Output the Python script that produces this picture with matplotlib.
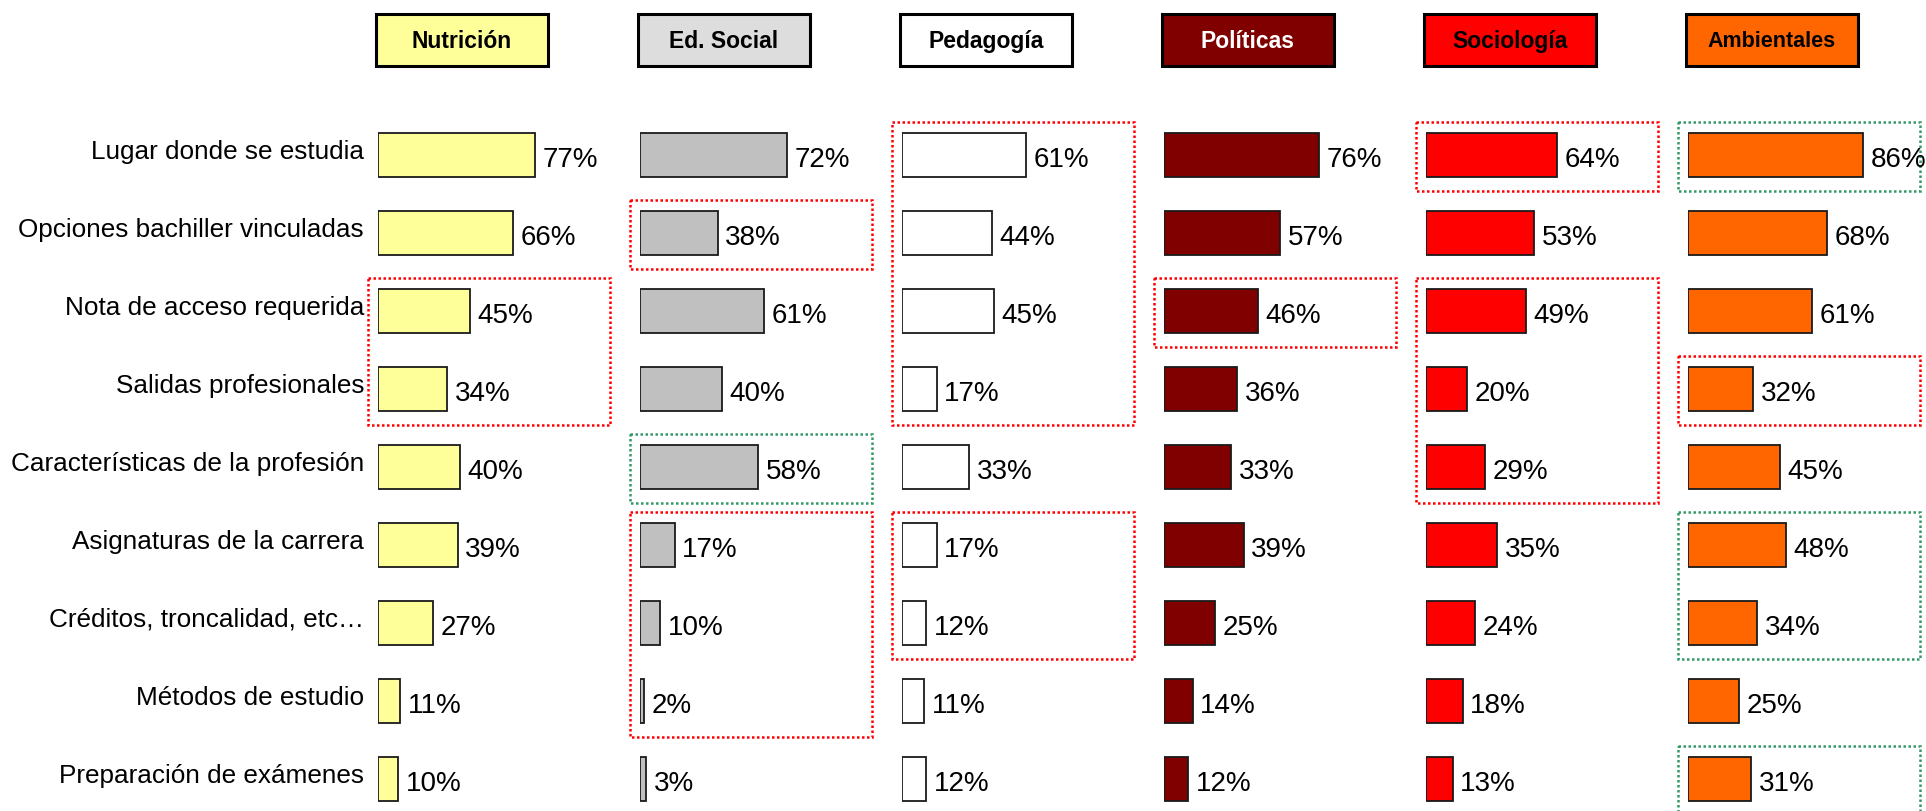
from matplotlib import pyplot as plt
from matplotlib.patches import Rectangle

##############
# define data
##############

categories = ['Lugar donde se estudia',
              'Opciones bachiller vinculadas',
              'Nota de acceso requerida',
              'Salidas profesionales',
              'Características de la profesión',
              'Asignaturas de la carrera',
              'Créditos, troncalidad, etc…',
              'Métodos de estudio',
              'Preparación de exámenes']

degrees = ['Nutrición', 'Ed. Social', 'Pedagogía', 'Políticas', 'Sociología', 'Ambientales']

nutricion = [77, 66, 45, 34, 40, 39, 27, 11, 10]
ed_social = [72, 38, 61, 40, 58, 17, 10, 2, 3]
pedagogia = [61, 44, 45, 17, 33, 17, 12, 11, 12]
politicas = [76, 57, 46, 36, 33, 39, 25, 14, 12]
sociologia = [64, 53, 49, 20, 29, 35, 24, 18, 13]
ambientales = [86, 68, 61, 32, 45, 48, 34, 25, 31]

# highlighted blocks: (degree index, first row, last row)
red_boxes = [(0, 2, 3), (1, 1, 1), (1, 5, 7), (2, 0, 3), (2, 5, 6),
             (3, 2, 2), (4, 0, 0), (4, 2, 4), (5, 3, 3)]
green_boxes = [(1, 4, 4), (5, 0, 0), (5, 5, 6), (5, 8, 8)]

########
# styles
########

series = [nutricion, ed_social, pedagogia, politicas, sociologia, ambientales]
bar_colors = ['#FFFF99', '#C0C0C0', '#FFFFFF', '#800000', '#FF0000', '#FF6600']
head_colors = ['#FFFF99', '#DDDDDD', '#FFFFFF', '#800000', '#FF0000', '#FF6600']
head_text = ['black', 'black', 'black', 'white', 'black', 'black']
head_size = [16.5, 16.5, 16.5, 16.5, 16.5, 15.5]

plt.rcParams['font.family'] = ['Liberation Sans', 'DejaVu Sans']

W, H = 1926, 811
px_per_pct = 2.04
row_top, row_step = 155, 78     # pixel centre of first row, row spacing

##########
# plotting
##########

fig = plt.figure(figsize=(W / 100, H / 100), dpi=100)

axes = []
for k in range(len(degrees)):
    left = 378 + 262 * k
    ax = fig.add_axes([left / W, 0, 100 * px_per_pct / W, 1])
    ax.set_xlim(0, 100)
    ax.set_ylim((H - row_top) / row_step, -row_top / row_step)
    ax.axis('off')
    axes.append(ax)

    vals = series[k]
    ax.barh(range(len(vals)), vals, height=0.56, color=bar_colors[k],
            edgecolor='#1a1a1a', linewidth=1.3, zorder=3)
    for i, v in enumerate(vals):
        ax.annotate(f'{v}%', xy=(v, i), xytext=(5.5, -8.6), textcoords='offset points',
                    ha='left', va='baseline', fontsize=20, color='black')

    # header box
    hy = (39.5 - row_top) / row_step
    hh = 52 / row_step
    ax.add_patch(Rectangle((-1, hy - hh / 2), 84.3, hh, facecolor=head_colors[k],
                           edgecolor='black', linewidth=2.2, clip_on=False, zorder=4))
    ax.annotate(degrees[k], xy=(41.15, hy), xytext=(0, -0.358 * head_size[k]),
                textcoords='offset points', ha='center', va='baseline',
                fontsize=head_size[k], fontweight='bold', color=head_text[k], zorder=5)

# category labels on the left
for i, cat in enumerate(categories):
    axes[0].annotate(cat, xy=(0, i), xytext=(-10, -2.6), textcoords='offset points',
                     ha='right', va='baseline', fontsize=18.8, color='black')

# dotted highlight boxes
for boxes, col in [(red_boxes, '#FF0000'), (green_boxes, '#339966')]:
    for k, r0, r1 in boxes:
        axes[k].add_patch(Rectangle((-4.9, r0 - 0.42), 118.6, (r1 - r0) + 0.88,
                                    fill=False, edgecolor=col, linewidth=1.8,
                                    linestyle=(0, (1, 1)), clip_on=False, zorder=2))

fig.savefig('out.png', dpi=100)
